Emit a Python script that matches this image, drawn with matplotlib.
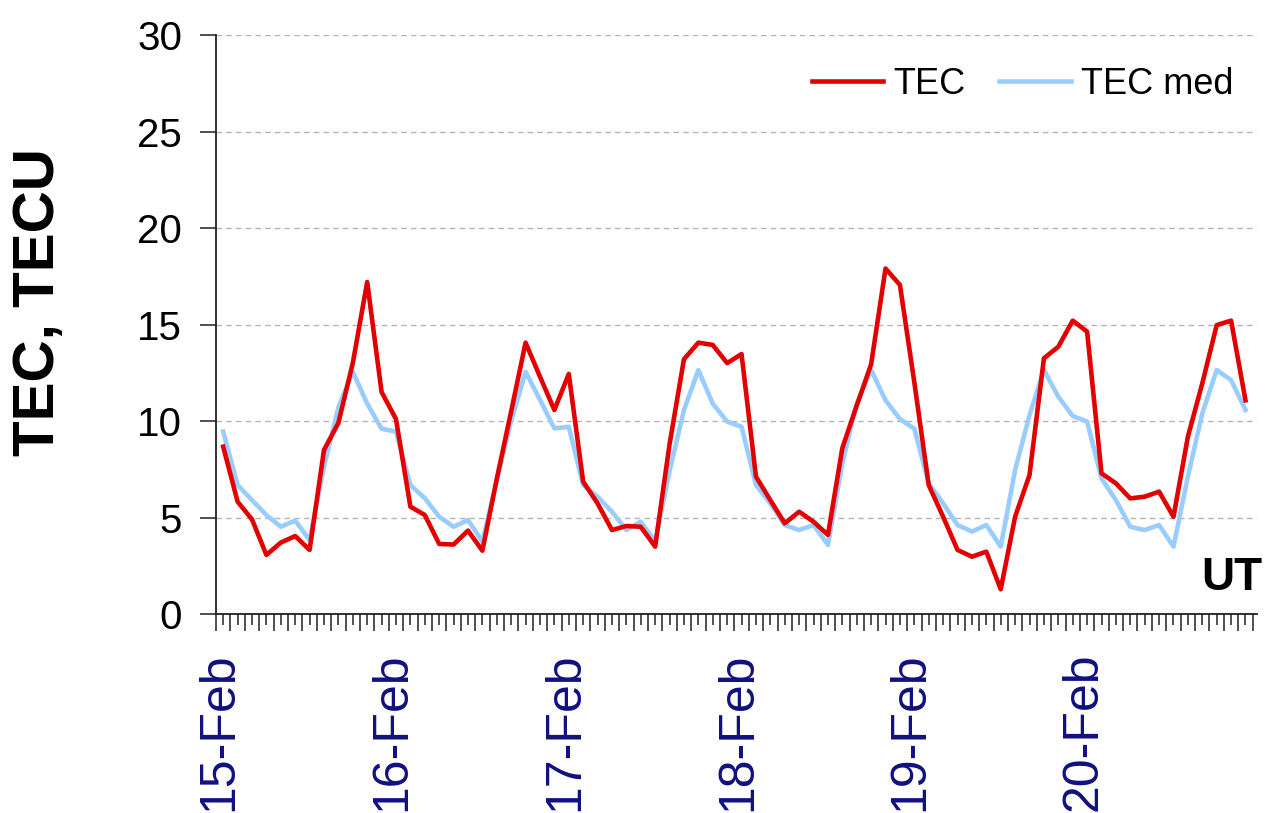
import numpy as np
import matplotlib.pyplot as plt
from matplotlib.ticker import MultipleLocator

plt.rcParams['font.family'] = ['Liberation Sans', 'DejaVu Sans']

# 2-hourly TEC values, 15-20 Feb
tec = [8.67, 5.82, 4.9, 3.06, 3.7, 4.04, 3.32, 8.5, 9.9, 13.0, 17.2, 11.5,
       10.1, 5.56, 5.13, 3.63, 3.6, 4.32, 3.28, 7.0, 10.5, 14.06, 12.3, 10.57,
       12.44, 6.86, 5.73, 4.35, 4.56, 4.52, 3.49, 8.8, 13.2, 14.06, 13.94, 13.0,
       13.47, 7.12, 5.9, 4.7, 5.3, 4.78, 4.1, 8.6, 10.8, 12.94, 17.9, 17.05,
       12.0, 6.68, 5.04, 3.32, 2.97, 3.23, 1.28, 5.04, 7.2, 13.25, 13.85, 15.2,
       14.63, 7.29, 6.77, 5.99, 6.08, 6.34, 5.04, 9.19, 11.95, 14.97, 15.2, 11.07]

tec_med = [9.45, 6.68, 5.9, 5.13, 4.52, 4.84, 3.83, 7.63, 10.7, 12.55, 10.9, 9.6,
           9.45, 6.68, 6.0, 5.04, 4.52, 4.87, 3.75, 6.9, 10.0, 12.55, 11.1, 9.62,
           9.7, 6.68, 6.08, 5.3, 4.35, 4.78, 3.75, 7.4, 10.57, 12.64, 10.9, 9.97,
           9.7, 6.68, 5.73, 4.61, 4.35, 4.61, 3.58, 7.8, 10.9, 12.64, 11.07, 10.1,
           9.6, 6.77, 5.73, 4.61, 4.27, 4.61, 3.49, 7.46, 10.3, 12.64, 11.26, 10.26,
           9.97, 7.03, 5.9, 4.52, 4.35, 4.61, 3.49, 7.12, 10.4, 12.64, 12.12, 10.57]

days = ['15-Feb', '16-Feb', '17-Feb', '18-Feb', '19-Feb', '20-Feb']

# hours since 15-Feb 00 UT, each value in the middle of its 2 h slot
hours = np.arange(len(tec)) * 2 + 1

fig = plt.figure(figsize=(12.68, 8.13), dpi=100)
ax = fig.add_axes([0.17035, 0.24477, 0.82098, 0.71218])

ax.plot(hours, tec_med, color='#99CCFF', lw=3.3, label='TEC med', zorder=3)
ax.plot(hours, tec, color='#E30000', lw=3.3, label='TEC', zorder=4)

ax.set_xlim(0, 144.6)
ax.set_ylim(0, 30)
ax.yaxis.set_major_locator(MultipleLocator(5))
ax.grid(axis='y', color='#B4B4B4', lw=1.0, linestyle=(0, (4, 3)))
ax.set_axisbelow(True)

for s in ['top', 'right']:
    ax.spines[s].set_visible(False)
for s in ['left', 'bottom']:
    ax.spines[s].set_linewidth(1.3)
    ax.spines[s].set_color('#202020')

ax.xaxis.set_major_locator(MultipleLocator(2))
ax.xaxis.set_minor_locator(MultipleLocator(1))
ax.tick_params(axis='x', which='major', length=12, width=1.1, labelbottom=False,
               color='#202020')
ax.tick_params(axis='x', which='minor', length=8, width=1.1, color='#202020')
ax.tick_params(axis='y', length=11.5, width=1.1, labelsize=29, pad=13,
               color='#202020')

for k, d in enumerate(days):
    ax.text(24 * k + 0.5, -0.066, d, rotation=90, ha='center', va='top',
            fontsize=36, color='#101080', transform=ax.get_xaxis_transform())

fig.text(39 / 1268, 1 - 302 / 813, 'TEC, TECU', rotation=90, ha='center',
         va='center', fontsize=42, fontweight='bold')
fig.text(1262 / 1268, 1 - 590 / 813, 'UT', ha='right', va='baseline',
         fontsize=33, fontweight='bold')

handles, labels = ax.get_legend_handles_labels()
ax.legend(handles[::-1], labels[::-1], loc='center left',
          bbox_to_anchor=(812 / 1268, 1 - 84 / 813), bbox_transform=fig.transFigure,
          ncol=2, frameon=False, fontsize=26, handlelength=1.97,
          handletextpad=0.28, columnspacing=0.94, borderpad=0, borderaxespad=0)

fig.savefig('out.png', dpi=100)
